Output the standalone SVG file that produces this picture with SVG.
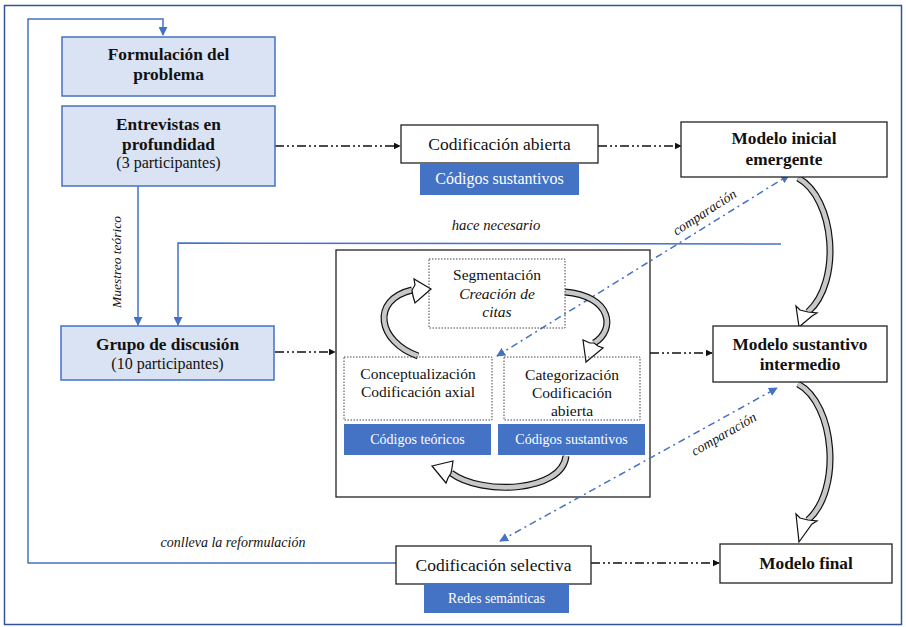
<svg xmlns="http://www.w3.org/2000/svg" width="906" height="627" viewBox="0 0 906 627" font-family="'Liberation Serif','Times New Roman','DejaVu Serif',serif">
<defs>
<style>
text{font-family:"Liberation Serif","Times New Roman","DejaVu Serif",serif;fill:#111;}
.b{font-weight:bold;font-size:17.3px;}
.r{font-size:17.5px;}
.i{font-style:italic;}
text.w{fill:#fff;}
.lb{fill:#dae3f3;stroke:#4472c4;stroke-width:1.5;}
.wb{fill:#fff;stroke:#222;stroke-width:1.3;}
.db{fill:none;stroke:#444;stroke-width:1;stroke-dasharray:1.5 1.5;}
.bb{fill:#4472c4;stroke:none;}
.blue{fill:none;stroke:#4472c4;stroke-width:1.5;}
.dd{fill:none;stroke:#111;stroke-width:1.5;stroke-dasharray:9 3 2 3 2 3;}
.cmp{fill:none;stroke:#4472c4;stroke-width:1.5;stroke-dasharray:7 4 2 4;}
.co{fill:none;stroke:#111;stroke-width:7;}
.ci{fill:none;stroke:#c8c8c8;stroke-width:4.6;}
.ah{fill:#fff;stroke:#111;stroke-width:1.2;stroke-linejoin:miter;}
</style>
<marker id="ka" viewBox="0 0 10 10" refX="9" refY="5" markerWidth="7" markerHeight="7" orient="auto" markerUnits="userSpaceOnUse"><path d="M0,0 L10,5 L0,10 z" fill="#111"/></marker>
<marker id="ba" viewBox="0 0 10 10" refX="9" refY="5" markerWidth="9" markerHeight="9" orient="auto" markerUnits="userSpaceOnUse"><path d="M0,0 L10,5 L0,10 z" fill="#4472c4"/></marker>
<marker id="bs" viewBox="0 0 10 10" refX="1" refY="5" markerWidth="9" markerHeight="9" orient="auto" markerUnits="userSpaceOnUse"><path d="M10,0 L0,5 L10,10 z" fill="#4472c4"/></marker>
</defs>
<rect x="0" y="0" width="906" height="627" fill="#fff"/>
<rect x="4.5" y="5.5" width="897" height="619" fill="#fff" stroke="#2f5597" stroke-width="1.5"/>

<g id="proceso">
<rect class="wb" x="336" y="250" width="314" height="247"/>
</g>

<g id="connectors">
<polyline class="blue" points="396,563 28,563 28,19 163,19 163,35" marker-end="url(#ba)"/>
<line class="blue" x1="138" y1="186" x2="138" y2="325" marker-end="url(#ba)"/>
<polyline class="blue" points="781,244 178,243 178,325" marker-end="url(#ba)"/>
<line class="dd" x1="275" y1="146" x2="400" y2="146" marker-end="url(#ka)"/>
<line class="dd" x1="598" y1="146" x2="681" y2="146" marker-end="url(#ka)"/>
<line class="dd" x1="275" y1="352" x2="335" y2="352" marker-end="url(#ka)"/>
<line class="dd" x1="650" y1="353" x2="712" y2="353" marker-end="url(#ka)"/>
<line class="dd" x1="591" y1="563" x2="719" y2="563" marker-end="url(#ka)"/>
<line class="cmp" x1="497" y1="356" x2="789" y2="175" marker-start="url(#bs)" marker-end="url(#ba)"/>
<line class="cmp" x1="500" y1="541" x2="777" y2="388" marker-start="url(#bs)" marker-end="url(#ba)"/>
<path class="co" d="M798 178 C835 198, 842 282, 808 312"/>
<path class="ci" d="M798 178 C835 198, 842 282, 808 312"/>
<polygon class="ah" points="799,327 796,306 800,310 808,312 817,313 812,316"/>
<path class="co" d="M798 384 C835 404, 842 490, 808 520"/>
<path class="ci" d="M798 384 C835 404, 842 490, 808 520"/>
<polygon class="ah" points="799,542 796,514 800,518 808,520 817,521 812,524"/>
<path class="co" d="M418 356 C378 342, 370 300, 412 290"/>
<path class="ci" d="M418 356 C378 342, 370 300, 412 290"/>
<polygon class="ah" points="431,289 414,279 415,285 412,290 413,296 415,303"/>
<path class="co" d="M565 292 C612 296, 616 330, 594 343"/>
<path class="ci" d="M565 292 C612 296, 616 330, 594 343"/>
<polygon class="ah" points="586,362 583,340 590,343 594,343 598,346 603,348"/>
<path class="co" d="M566 456 C562 492, 482 496, 451 473"/>
<path class="ci" d="M566 456 C562 492, 482 496, 451 473"/>
<polygon class="ah" points="432,466 453,461 452,468 451,473 448,478 446,483"/>
<text class="i" font-size="13.5" transform="translate(121,262) rotate(-90)" text-anchor="middle">Muestreo teórico</text>
<text class="i" font-size="14.7" x="496" y="230" text-anchor="middle">hace necesario</text>
<text class="i" font-size="14" x="233" y="547" text-anchor="middle">conlleva la reformulación</text>
<text class="i" font-size="13.8" transform="translate(707,216) rotate(-33)" text-anchor="middle">comparación</text>
<text class="i" font-size="13.8" transform="translate(726,438) rotate(-30)" text-anchor="middle">comparación</text>
</g>

<g id="formulacion">
<rect class="lb" x="62" y="37" width="213" height="59"/>
<text class="b" x="168.5" y="60" text-anchor="middle">Formulación del</text>
<text class="b" x="168.5" y="80" text-anchor="middle">problema</text>
</g>
<g id="entrevistas">
<rect class="lb" x="62" y="106" width="213" height="80"/>
<text class="b" x="168.5" y="130" text-anchor="middle">Entrevistas en</text>
<text class="b" x="168.5" y="150" text-anchor="middle">profundidad</text>
<text font-size="16" x="168.5" y="168" text-anchor="middle">(3 participantes)</text>
</g>
<g id="grupo">
<rect class="lb" x="61" y="326" width="213" height="54"/>
<text class="b" x="167.5" y="350" text-anchor="middle">Grupo de discusión</text>
<text font-size="16" x="167.5" y="369" text-anchor="middle">(10 participantes)</text>
</g>
<g id="cod-abierta">
<rect class="wb" x="401" y="125" width="197" height="38"/>
<text class="r" x="499.5" y="150" text-anchor="middle">Codificación abierta</text>
<rect class="bb" x="420" y="163" width="159" height="32"/>
<text class="w" font-size="16" x="499.5" y="184" text-anchor="middle">Códigos sustantivos</text>
</g>
<g id="modelo-inicial">
<rect class="wb" x="681" y="122" width="206" height="55"/>
<text class="b" x="784" y="144" text-anchor="middle">Modelo inicial</text>
<text class="b" x="784" y="165" text-anchor="middle">emergente</text>
</g>
<g id="segmentacion">
<rect class="db" x="429" y="259" width="136" height="69"/>
<text font-size="15.5" x="497" y="280" text-anchor="middle">Segmentación</text>
<text class="i" font-size="15.5" x="497" y="299" text-anchor="middle">Creación de</text>
<text class="i" font-size="15.5" x="497" y="317" text-anchor="middle">citas</text>
</g>
<g id="conceptualizacion">
<rect class="db" x="344" y="357" width="148" height="63"/>
<text font-size="15.5" x="418" y="379" text-anchor="middle">Conceptualización</text>
<text font-size="15.5" x="418" y="397" text-anchor="middle">Codificación axial</text>
<rect class="bb" x="344" y="424" width="147" height="31"/>
<text class="w" font-size="14" x="417.5" y="444" text-anchor="middle">Códigos teóricos</text>
</g>
<g id="categorizacion">
<rect class="db" x="504" y="357" width="136" height="63"/>
<text font-size="15.5" x="572" y="380" text-anchor="middle">Categorización</text>
<text font-size="15.5" x="572" y="398" text-anchor="middle">Codificación</text>
<text font-size="15.5" x="572" y="416" text-anchor="middle">abierta</text>
<rect class="bb" x="498" y="424" width="147" height="31"/>
<text class="w" font-size="14" x="571.5" y="444" text-anchor="middle">Códigos sustantivos</text>
</g>
<g id="modelo-sustantivo">
<rect class="wb" x="713" y="326" width="174" height="56"/>
<text class="b" x="800" y="350" text-anchor="middle">Modelo sustantivo</text>
<text class="b" x="800" y="370" text-anchor="middle">intermedio</text>
</g>
<g id="cod-selectiva">
<rect class="wb" x="396" y="546" width="195" height="38"/>
<text class="r" x="493.5" y="571" text-anchor="middle">Codificación selectiva</text>
<rect class="bb" x="424" y="584" width="145" height="29"/>
<text class="w" font-size="13.7" x="496.5" y="603" text-anchor="middle">Redes semánticas</text>
</g>
<g id="modelo-final">
<rect class="wb" x="720" y="544" width="172" height="39"/>
<text class="b" x="806" y="569" text-anchor="middle">Modelo final</text>
</g>
</svg>
